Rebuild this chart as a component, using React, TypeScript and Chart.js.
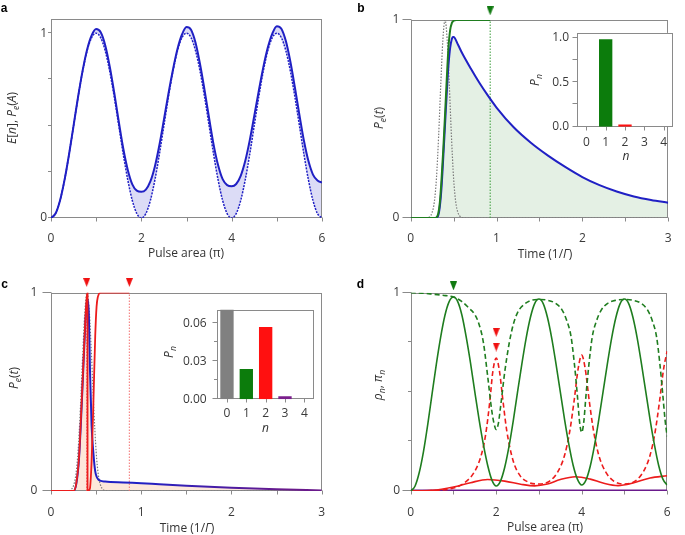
import React, { useEffect, useRef } from 'react';
import { Chart, registerables } from 'chart.js';

Chart.register(...registerables);
Chart.defaults.font.family = "'Open Sans', 'DejaVu Sans', sans-serif";
Chart.defaults.font.size = 12;

// ================= DATA =================
// Panel a: pulse area (units of pi)
const aPulseArea = [0,0.1,0.2,0.3,0.4,0.5,0.6,0.7,0.8,0.9,1,1.1,1.2,1.3,1.4,1.5,1.6,1.7,1.8,1.9,2,2.1,2.2,2.3,2.4,2.5,2.6,2.7,2.8,2.9,3,3.1,3.2,3.3,3.4,3.5,3.6,3.7,3.8,3.9,4,4.1,4.2,4.3,4.4,4.5,4.6,4.7,4.8,4.9,5,5.1,5.2,5.3,5.4,5.5,5.6,5.7,5.8,5.9,6];
const aExcited = [0,0.024,0.095,0.206,0.345,0.5,0.655,0.794,0.905,0.976,
  1,0.976,0.905,0.794,0.655,0.5,0.345,0.206,0.095,0.024,
  0,0.024,0.095,0.206,0.345,0.5,0.655,0.794,0.905,0.976,
  1,0.976,0.905,0.794,0.655,0.5,0.345,0.206,0.095,0.024,
  0,0.024,0.095,0.206,0.345,0.5,0.655,0.794,0.905,0.976,
  1,0.976,0.905,0.794,0.655,0.5,0.345,0.206,0.095,0.024,
  0];
const aPhotons = [0,0.024,0.095,0.206,0.345,0.5,0.656,0.797,0.912,0.988,
  1.022,1.005,0.935,0.82,0.678,0.522,0.376,0.26,0.182,0.148,
  0.142,0.154,0.198,0.279,0.395,0.532,0.672,0.802,0.914,0.993,
  1.033,1.018,0.948,0.832,0.692,0.541,0.397,0.285,0.21,0.178,
  0.172,0.184,0.228,0.308,0.42,0.552,0.688,0.815,0.922,0.998,
  1.038,1.024,0.957,0.845,0.706,0.558,0.418,0.308,0.235,0.203,
  0.192];

// Panels b, c: time (1/Gamma)
const pulseT = [0,0.15,0.2,0.225,0.25,0.275,0.3,0.325,0.35,0.375,0.4,0.425,0.45,0.475,0.5,0.525,0.55,0.575,0.6,0.65,3];
const pulseY = [0,0,0.002,0.008,0.028,0.08,0.2,0.41,0.67,0.9,1,0.9,0.67,0.41,0.2,0.08,0.028,0.008,0.002,0,0];

const bGreenT = [0,0.28,0.3,0.32,0.34,0.36,0.38,0.4,0.42,0.44,0.46,0.48,0.5,0.53,0.6,0.926];
const bGreenY = [0,0,0.003,0.02,0.08,0.2,0.35,0.52,0.7,0.86,0.95,0.985,0.996,1,1,1];
const bBlueT = [0,0.29,0.32,0.34,0.36,0.38,0.4,0.42,0.44,0.46,0.48,0.49,0.5,0.55,0.6,0.7,0.8,0.9,1,1.2,1.4,1.6,1.8,2,2.2,2.4,2.6,2.8,3];
const bBlueY = [0,0,0.012,0.06,0.16,0.31,0.47,0.63,0.77,0.86,0.905,0.914,0.914,0.876,0.832,0.755,0.683,0.618,0.558,0.458,0.38,0.315,0.258,0.207,0.166,0.134,0.109,0.091,0.077];
const bMarkT = [0.926];
const bMarkY = [1.046];

const cRedT = [0,0.25,0.28,0.31,0.34,0.36,0.38,0.395,0.405,0.405,0.43,0.45,0.47,0.49,0.505,0.52,0.55,0.868];
const cRedY = [0,0,0.04,0.17,0.45,0.66,0.86,0.97,1,0,0.01,0.15,0.45,0.78,0.93,0.98,1,1];
const cBlueT = [0,0.25,0.28,0.31,0.34,0.36,0.38,0.395,0.41,0.42,0.432,0.45,0.47,0.49,0.506,0.525,0.545,0.6,0.8,1,1.2,1.5,2,2.5,3];
const cBlueY = [0,0,0.035,0.16,0.43,0.64,0.84,0.94,0.965,0.88,0.61,0.33,0.19,0.1,0.072,0.058,0.052,0.048,0.043,0.039,0.034,0.027,0.017,0.009,0.003];
const cMarkT = [0.395, 0.868];
const cMarkY = [1.052, 1.052];

// Insets: photon number n
const nCats = ['0', '1', '2', '3', '4'];
const insetBProb = [0, 0.983, 0.025, 0, 0];
const insetCProb = [0.091, 0.0239, 0.057, 0.0025, 0];
const nColors = ['#808080', '#0c7c0c', '#ff1010', '#7b1f8c', '#808080'];

// Panel d: pulse area (units of pi)
const dArea = aPulseArea;
const dRho1 = [0,0.024,0.093,0.2,0.337,0.49,0.64,0.775,0.885,0.955,
  0.978,0.955,0.885,0.775,0.645,0.5,0.36,0.235,0.13,0.055,
  0.025,0.05,0.12,0.225,0.355,0.5,0.64,0.77,0.875,0.945,
  0.968,0.945,0.875,0.77,0.64,0.5,0.36,0.235,0.13,0.06,
  0.03,0.055,0.125,0.23,0.36,0.5,0.64,0.77,0.875,0.945,
  0.968,0.945,0.875,0.77,0.64,0.5,0.36,0.235,0.13,0.06,
  0.03];
const dPi1A = [0,0.25,0.5,0.75,1,1.2,1.35,1.5,1.6,1.7,1.8,1.9,1.95,2,2.05,2.1,2.2,2.3,2.4,2.5,2.65,2.8,3,3.2,3.4,3.55,3.65,3.75,3.83,3.9,3.95,4,4.05,4.1,4.17,4.25,4.35,4.45,4.6,4.8,5,5.2,5.4,5.55,5.65,5.75,5.83,5.9,5.95,6];
const dPi1 = [1,0.998,0.993,0.987,0.978,0.955,0.925,0.89,0.84,0.75,0.58,0.4,0.34,0.31,0.34,0.42,0.6,0.74,0.84,0.9,0.94,0.96,0.966,0.962,0.945,0.91,0.86,0.78,0.64,0.48,0.35,0.295,0.35,0.48,0.64,0.78,0.86,0.91,0.945,0.962,0.966,0.962,0.945,0.91,0.86,0.78,0.64,0.48,0.36,0.275];
const dPi2A = [0,0.5,1,1.25,1.5,1.65,1.75,1.85,1.92,2,2.08,2.15,2.25,2.4,2.55,2.75,3,3.25,3.45,3.6,3.72,3.82,3.92,4,4.08,4.18,4.28,4.4,4.55,4.75,5,5.25,5.45,5.6,5.72,5.82,5.92,6];
const dPi2 = [0,0.002,0.015,0.04,0.1,0.18,0.28,0.45,0.6,0.67,0.6,0.47,0.3,0.15,0.08,0.045,0.035,0.05,0.1,0.18,0.3,0.45,0.62,0.685,0.62,0.45,0.3,0.18,0.1,0.05,0.035,0.05,0.1,0.18,0.3,0.45,0.62,0.705];
const dRho2A = [0,0.5,1,1.4,1.8,2.2,2.6,2.9,3.2,3.5,3.85,4.2,4.5,4.85,5.2,5.6,6];
const dRho2 = [0,0.003,0.02,0.042,0.058,0.05,0.033,0.026,0.035,0.058,0.072,0.06,0.04,0.027,0.04,0.066,0.077];
const dRho3A = [0, 6];
const dRho3 = [0.002, 0.002];
const dGreenMarkA = [1];
const dGreenMarkY = [1.034];
const dRedMarkA = [2, 2];
const dRedMarkY = [0.8, 0.726];

// Axis ticks
const tickUnit = [0, 0.25, 0.5, 0.75, 1];
const tickUnitLbl = ['0', '', '', '', '1'];
const tickEnds = [0, 1];
const tickEndsLbl = ['0', '1'];
const tickArea = [0, 1, 2, 3, 4, 5, 6];
const tickAreaLbl = ['0', '', '2', '', '4', '', '6'];
const tickTime = [0, 0.5, 1, 1.5, 2, 2.5, 3];
const tickTimeLbl = ['0', '', '1', '', '2', '', '3'];
const tickInB = [0, 0.25, 0.5, 0.75, 1];
const tickInBLbl = ['0.0', '', '0.5', '', '1.0'];
const tickInC = [0, 0.015, 0.03, 0.045, 0.06];
const tickInCLbl = ['0.00', '', '0.03', '', '0.06'];

// ================= HELPERS =================
const BLUE = '#2020c4';
const GREEN = '#1f7d1f';
const RED = '#ec1c1c';
const GRAY = '#7a7a7a';
const PURPLE = '#6a1a8c';

type Geo = { left: number; top: number; w: number; h: number; yW: number; xH: number; padT: number; padR: number };

const xy = (xs: number[], ys: number[]) => xs.map((x, i) => ({ x, y: ys[i] }));

const framePlugin: any = {
  id: 'frame',
  beforeDraw(chart: any, _a: any, o: any) {
    if (!o || !o.bg) return;
    const { ctx, chartArea: a } = chart;
    ctx.save();
    ctx.fillStyle = o.bg;
    ctx.fillRect(a.left, a.top, a.right - a.left, a.bottom - a.top);
    ctx.restore();
  },
  beforeDatasetsDraw(chart: any, _a: any, o: any) {
    const { ctx, chartArea: a, scales } = chart;
    ctx.save();
    ctx.strokeStyle = '#8a8a8a';
    ctx.lineWidth = 1;
    const L = Math.round(a.left) + 0.5;
    const R = Math.round(a.right) - 0.5;
    const T = Math.round(a.top) + 0.5;
    const B = Math.round(a.bottom) - 0.5;
    ctx.strokeRect(L, T, R - L, B - T);
    ctx.beginPath();
    const xs = scales.x;
    const ys = scales.y;
    xs.ticks.forEach((t: any, i: number) => {
      const p = Math.round(xs.getPixelForTick(i)) + 0.5;
      const len = t.label ? o.xMajor : o.xMinor;
      ctx.moveTo(p, B);
      ctx.lineTo(p, B + len);
    });
    ys.ticks.forEach((t: any, i: number) => {
      const p = Math.round(ys.getPixelForTick(i)) - 0.5;
      const len = t.label ? o.yMajor : o.yMinor;
      ctx.moveTo(L, p);
      ctx.lineTo(L - len, p);
    });
    ctx.stroke();
    ctx.restore();
  },
};

function linAxis(min: number, max: number, ticks: number[], labels: string[], pad: number, fit: (s: any) => void) {
  return {
    type: 'linear',
    min,
    max,
    afterBuildTicks: (s: any) => {
      s.ticks = ticks.map((v) => ({ value: v }));
    },
    afterFit: fit,
    grid: { display: false, drawOnChartArea: false, drawTicks: false },
    border: { display: false },
    ticks: {
      autoSkip: false,
      maxRotation: 0,
      minRotation: 0,
      padding: pad,
      color: '#3a3a3a',
      font: { size: 12 },
      callback: (_v: any, i: number) => labels[i] ?? '',
    },
  };
}

function baseOptions(geo: Geo, frame: any) {
  return {
    responsive: false,
    animation: false,
    events: [],
    layout: { padding: { left: 0, top: geo.padT, right: geo.padR, bottom: 0 } },
    plugins: {
      legend: { display: false },
      tooltip: { enabled: false },
      filler: { drawTime: 'beforeDatasetsDraw' },
      frame,
    },
    elements: { point: { radius: 0 }, line: { cubicInterpolationMode: 'monotone' } },
  };
}

const line = (data: any[], color: any, width: number, dash: number[] = [], extra: any = {}) => ({
  data,
  borderColor: color,
  borderWidth: width,
  borderDash: dash,
  pointRadius: 0,
  fill: false,
  ...extra,
});

function triangle(color: string) {
  const c = document.createElement('canvas');
  c.width = 7;
  c.height = 9;
  const g = c.getContext('2d')!;
  g.fillStyle = color;
  g.beginPath();
  g.moveTo(0, 0);
  g.lineTo(7, 0);
  g.lineTo(3.5, 9);
  g.closePath();
  g.fill();
  return c;
}

const marker = (data: any[], img: any) => ({
  data,
  showLine: false,
  pointStyle: img,
  pointRadius: 16,
  pointBorderWidth: 0,
  borderColor: 'transparent',
  backgroundColor: 'transparent',
  clip: false,
});

const vline = (x: number, color: string) =>
  line([{ x, y: 0 }, { x, y: 1 }], color, 1, [1.5, 1.5], { cubicInterpolationMode: 'default', tension: 0 });

// ================= GEOMETRY =================
const geoA: Geo = { left: 0, top: 0, w: 340, h: 265, yW: 51, xH: 47, padT: 19.3, padR: 18 };
const geoB: Geo = { left: 340, top: 0, w: 345, h: 265, yW: 70.7, xH: 47, padT: 20, padR: 4.3 };
const geoC: Geo = { left: 0, top: 265, w: 340, h: 270, yW: 51, xH: 44, padT: 27.7, padR: 18.3 };
const geoD: Geo = { left: 340, top: 265, w: 345, h: 270, yW: 70.7, xH: 44, padT: 27.7, padR: 4.3 };
const geoIB: Geo = { left: 527, top: 18, w: 155, h: 150, yW: 49.7, xH: 41.3, padT: 8.7, padR: 8.7 };
const geoIC: Geo = { left: 160, top: 292, w: 160, h: 145, yW: 57.3, xH: 37.7, padT: 8, padR: 6 };

const fx = (g: Geo) => (s: any) => { s.height = g.xH; };
const fy = (g: Geo) => (s: any) => { s.width = g.yW; };

// ================= CHART CONFIGS =================
function makeA() {
  return {
    type: 'line',
    data: {
      datasets: [
        line(xy(aPulseArea, aPhotons), BLUE, 2, [], { fill: '+1', backgroundColor: '#dcdcf6' }),
        line(xy(aPulseArea, aExcited), BLUE, 1.5, [2, 1.2]),
      ],
    },
    options: {
      ...baseOptions(geoA, { xMajor: 4, xMinor: 4, yMajor: 3.5, yMinor: 3.5 }),
      scales: {
        x: linAxis(0, 6, tickArea, tickAreaLbl, 13, fx(geoA)),
        y: linAxis(0, 1.075, tickUnit, tickUnitLbl, 4, fy(geoA)),
      },
    },
    plugins: [framePlugin],
  };
}

function makeB() {
  const tri = triangle('#117a11');
  return {
    type: 'line',
    data: {
      datasets: [
        marker(xy(bMarkT, bMarkY), tri),
        line(xy(bGreenT, bGreenY), GREEN, 2),
        line(xy(bBlueT, bBlueY), BLUE, 2, [], { fill: 'origin', backgroundColor: '#e4f0e4' }),
        vline(bMarkT[0], '#3a9c3a'),
        line(xy(pulseT, pulseY), GRAY, 1.2, [1.5, 1.5]),
      ],
    },
    options: {
      ...baseOptions(geoB, { xMajor: 4, xMinor: 4, yMajor: 9, yMinor: 3.5 }),
      scales: {
        x: linAxis(0, 3, tickTime, tickTimeLbl, 13.4, fx(geoB)),
        y: linAxis(0, 1, tickEnds, tickEndsLbl, 11.4, fy(geoB)),
      },
    },
    plugins: [framePlugin],
  };
}

function makeC() {
  const tri = triangle('#f01010');
  const blueToPurple = (ctx: any) => {
    const chart = ctx.chart;
    const xs = chart.scales && chart.scales.x;
    if (!chart.chartArea || !xs) return BLUE;
    const g = chart.ctx.createLinearGradient(xs.getPixelForValue(1), 0, xs.getPixelForValue(2.6), 0);
    g.addColorStop(0, BLUE);
    g.addColorStop(1, PURPLE);
    return g;
  };
  return {
    type: 'line',
    data: {
      datasets: [
        marker(xy(cMarkT, cMarkY), tri),
        line(xy(cRedT, cRedY), RED, 1.8),
        line(xy(cBlueT, cBlueY), blueToPurple, 2, [], { fill: 'origin', backgroundColor: '#fde7da' }),
        vline(cMarkT[0], '#f27070'),
        vline(cMarkT[1], '#f27070'),
        line(xy(pulseT, pulseY), GRAY, 1.2, [1.5, 1.5]),
      ],
    },
    options: {
      ...baseOptions(geoC, { xMajor: 4, xMinor: 4, yMajor: 9, yMinor: 3.5 }),
      scales: {
        x: linAxis(0, 3, tickTime, tickTimeLbl, 14.4, fx(geoC)),
        y: linAxis(0, 1, tickEnds, tickEndsLbl, 13.7, fy(geoC)),
      },
    },
    plugins: [framePlugin],
  };
}

function makeD() {
  const triG = triangle('#117a11');
  const triR = triangle('#f01010');
  return {
    type: 'line',
    data: {
      datasets: [
        marker(xy(dGreenMarkA, dGreenMarkY), triG),
        marker(xy(dRedMarkA, dRedMarkY), triR),
        line(xy(dArea, dRho1), GREEN, 1.6),
        line(xy(dPi1A, dPi1), GREEN, 1.6, [5, 3]),
        line(xy(dRho2A, dRho2), RED, 1.6),
        line(xy(dPi2A, dPi2), RED, 1.6, [5, 3]),
        line(xy(dRho3A, dRho3), PURPLE, 2),
      ],
    },
    options: {
      ...baseOptions(geoD, { xMajor: 4, xMinor: 4, yMajor: 9, yMinor: 3.5 }),
      scales: {
        x: linAxis(0, 6, tickArea, tickAreaLbl, 14.4, fx(geoD)),
        y: linAxis(0, 1, tickUnit, tickUnitLbl, 10.7, fy(geoD)),
      },
    },
    plugins: [framePlugin],
  };
}

function makeInset(geo: Geo, values: number[], yMax: number, ticks: number[], labels: string[], xPad: number, yPad: number, yMajor: number, yMinor: number) {
  return {
    type: 'bar',
    data: {
      labels: nCats,
      datasets: [
        {
          data: values,
          backgroundColor: nColors,
          borderWidth: 0,
          barPercentage: 0.69,
          categoryPercentage: 1,
          clip: 0,
        },
      ],
    },
    options: {
      ...baseOptions(geo, { bg: '#ffffff', xMajor: 4, xMinor: 4, yMajor, yMinor }),
      scales: {
        x: {
          type: 'category',
          offset: true,
          afterFit: fx(geo),
          grid: { display: false, drawTicks: false, offset: false },
          border: { display: false },
          ticks: { autoSkip: false, maxRotation: 0, padding: xPad, color: '#3a3a3a', font: { size: 12 } },
        },
        y: linAxis(0, yMax, ticks, labels, yPad, fy(geo)),
      },
    },
    plugins: [framePlugin],
  };
}

const makeIB = () => makeInset(geoIB, insetBProb, 1.053, tickInB, tickInBLbl, 8.7, 7.7, 5, 5);
const makeIC = () => makeInset(geoIC, insetCProb, 0.0705, tickInC, tickInCLbl, 6.7, 10.6, 5, 3.5);

// ================= COMPONENTS =================
function ChartCanvas({ geo, make }: { geo: Geo; make: () => any }) {
  const ref = useRef<HTMLCanvasElement | null>(null);
  useEffect(() => {
    if (!ref.current) return;
    const chart = new Chart(ref.current, make() as any);
    return () => chart.destroy();
  }, []);
  return (
    <canvas
      ref={ref}
      width={geo.w}
      height={geo.h}
      style={{ position: 'absolute', left: geo.left, top: geo.top, width: geo.w, height: geo.h }}
    />
  );
}

function Txt({ x, y, rot = false, size = 12, bold = false, children }: any) {
  return (
    <div
      style={{
        position: 'absolute',
        left: x,
        top: y,
        transform: `translate(-50%, -50%)${rot ? ' rotate(-90deg)' : ''}`,
        fontFamily: bold ? "'Liberation Sans', Arial, sans-serif" : "'Open Sans', sans-serif",
        fontSize: size,
        fontWeight: bold ? 700 : 400,
        color: bold ? '#000' : '#333',
        whiteSpace: 'nowrap',
        lineHeight: 1,
      }}
    >
      {children}
    </div>
  );
}

const Sub = ({ children }: any) => (
  <span style={{ fontSize: '0.72em', position: 'relative', top: '0.3em' }}>{children}</span>
);

export default function App() {
  return (
    <div style={{ position: 'absolute', left: 0, top: 0, width: 685, height: 535, background: '#fff', overflow: 'hidden' }}>
      <ChartCanvas geo={geoA} make={makeA} />
      <ChartCanvas geo={geoB} make={makeB} />
      <ChartCanvas geo={geoC} make={makeC} />
      <ChartCanvas geo={geoD} make={makeD} />
      <ChartCanvas geo={geoIB} make={makeIB} />
      <ChartCanvas geo={geoIC} make={makeIC} />

      <Txt x={4} y={7.5} bold>a</Txt>
      <Txt x={361} y={7.5} bold>b</Txt>
      <Txt x={4.5} y={283.5} bold>c</Txt>
      <Txt x={360.5} y={283.5} bold>d</Txt>

      <Txt x={11.5} y={117.5} rot>
        <i>E</i>[<i>n</i>], <i>P</i><Sub><i>e</i></Sub>(<i>A</i>)
      </Txt>
      <Txt x={186} y={253}>Pulse area (π)</Txt>

      <Txt x={379} y={118} rot>
        <i>P</i><Sub><i>e</i></Sub>(<i>t</i>)
      </Txt>
      <Txt x={545} y={254}>Time (1/<i>Γ</i>)</Txt>
      <Txt x={535} y={80} rot>
        <i>P</i><Sub><i>n</i></Sub>
      </Txt>
      <Txt x={626} y={156}><i>n</i></Txt>

      <Txt x={14} y={378} rot>
        <i>P</i><Sub><i>e</i></Sub>(<i>t</i>)
      </Txt>
      <Txt x={187} y={528}>Time (1/<i>Γ</i>)</Txt>
      <Txt x={169} y={352} rot>
        <i>P</i><Sub><i>n</i></Sub>
      </Txt>
      <Txt x={265.5} y={428}><i>n</i></Txt>

      <Txt x={377.5} y={385} rot>
        <i>ρ</i><Sub><i>n</i></Sub>, <i>π</i><Sub><i>n</i></Sub>
      </Txt>
      <Txt x={545} y={527}>Pulse area (π)</Txt>
    </div>
  );
}
